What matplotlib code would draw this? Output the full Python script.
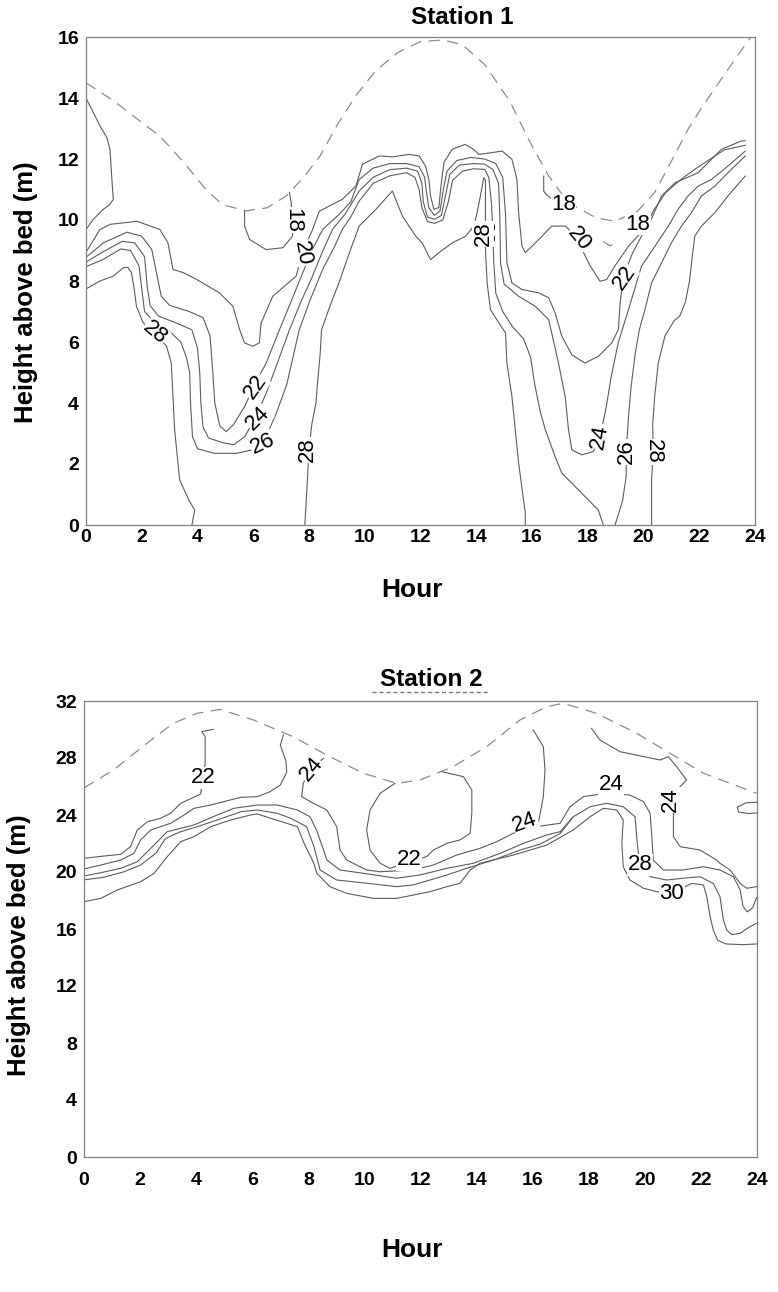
import matplotlib
matplotlib.use('Agg')
import matplotlib.pyplot as plt
from matplotlib.lines import Line2D

plt.rcParams['font.family'] = ['Liberation Sans', 'DejaVu Sans']

# ---------------- Station 1 data (hour, height above bed in m) ----------------
s1_surface_hour = [0, 1, 2, 2.65, 3.5, 4.3, 4.9, 5.75, 6.5, 7.2, 7.8, 8.4, 9.0, 9.7, 10.4, 11.2, 12.0, 12.8,
                   13.5, 14.3, 15.2, 15.9, 16.6, 17.3, 18.3, 18.98, 19.8, 20.4, 21.1, 21.6, 22.1, 23.0, 23.85]
s1_surface_height = [14.5, 13.9, 13.2, 12.75, 11.9, 11.0, 10.5, 10.3, 10.4, 10.8, 11.4, 12.1, 13.1, 14.1, 14.9,
                     15.5, 15.85, 15.9, 15.75, 15.1, 13.9, 12.6, 11.44, 10.57, 10.07, 9.96, 10.3, 10.9, 12.1,
                     12.98, 13.7, 14.9, 16.0]
s1_surface_bit_hour = [18.55, 18.8, 19.1]
s1_surface_bit_height = [9.3, 9.15, 9.3]

s1_c18a_hour = [5.69, 5.69, 5.87, 6.46, 7.06, 7.41, 7.4, 7.36, 7.3]
s1_c18a_height = [10.29, 9.8, 9.36, 9.03, 9.09, 9.47, 10.0, 10.57, 10.9]
s1_c18b_hour = [16.42, 16.42, 16.55, 16.8]
s1_c18b_height = [11.44, 10.95, 10.8, 10.65]

s1_c20a_hour = [0, 0.5, 0.75, 0.86, 0.92, 0.98, 0.85, 0.62, 0.26, 0]
s1_c20a_height = [14.0, 13.09, 12.7, 12.32, 11.44, 10.68, 10.5, 10.35, 10.02, 9.69]

s1_c20_hour = [0, 0.5, 0.88, 1.57, 1.82, 2.65, 2.94, 3.12, 3.5, 3.97, 4.79, 5.27, 5.51, 5.69, 5.98, 6.22, 6.28,
               6.7, 7.54, 7.75, 8.13, 8.37, 9.2, 9.68, 9.92, 10.52, 11.0, 11.59, 11.95, 12.18, 12.3, 12.36, 12.48,
               12.66, 12.72, 12.84, 13.14, 13.6, 13.9, 14.09, 14.57, 14.93, 15.28, 15.46, 15.52, 15.64, 15.76,
               16.24, 16.71, 17.19, 17.67, 17.85, 18.09, 18.44, 18.68, 18.98, 19.46, 19.9, 20.17, 20.65, 21.13,
               21.96, 22.32, 22.8, 23.51, 23.65]
s1_c20_height = [8.94, 9.69, 9.86, 9.93, 9.96, 9.69, 9.25, 8.38, 8.27, 8.05, 7.61, 7.17, 6.41, 5.97, 5.86, 5.97,
                 6.62, 7.5, 8.16, 8.9, 9.69, 10.29, 10.68, 11.11, 11.83, 12.1, 12.07, 12.15, 12.1, 11.77, 11.33,
                 10.79, 10.35, 10.41, 11.0, 11.89, 12.32, 12.48, 12.32, 12.15, 12.21, 12.26, 11.99, 11.33, 10.24,
                 9.14, 8.93, 9.36, 9.8, 9.8, 9.4, 8.93, 8.49, 7.99, 8.05, 8.5, 9.14, 9.58, 9.8, 10.79, 11.22,
                 11.55, 11.88, 12.32, 12.59, 12.6]

s1_c22_hour = [0, 0.64, 1.47, 2.0, 2.36, 2.5, 2.7, 3.0, 3.7, 4.2, 4.45, 4.55, 4.62, 4.8, 5.03, 5.3, 5.7, 6.04,
               6.46, 6.94, 7.3, 7.7, 8.1, 8.5, 9.1, 9.5, 9.8, 10.3, 10.9, 11.5, 11.95, 12.15, 12.2, 12.3, 12.5,
               12.7, 12.82, 12.95, 13.3, 13.8, 14.3, 14.7, 14.95, 15.05, 15.1, 15.28, 15.64, 16.24, 16.6, 16.83,
               17.07, 17.43, 17.9, 18.38, 18.86, 19.1, 19.16, 19.28, 19.6, 20.0, 20.35, 20.8, 21.3, 21.9, 22.4,
               22.9, 23.65]
s1_c22_height = [8.78, 9.26, 9.6, 9.47, 9.03, 8.4, 7.5, 7.2, 7.0, 6.8, 6.2, 5.0, 4.0, 3.25, 3.06, 3.3, 3.9, 4.6,
                 5.3, 6.4, 7.2, 8.1, 9.0, 9.7, 10.2, 10.6, 11.33, 11.7, 11.85, 11.85, 11.75, 11.4, 11.0, 10.4,
                 10.15, 10.3, 11.0, 11.6, 11.95, 12.05, 12.0, 11.85, 11.4, 10.2, 8.6, 7.94, 7.72, 7.61, 7.45, 6.95,
                 6.19, 5.58, 5.31, 5.53, 5.97, 6.41, 7.28, 8.16, 8.9, 9.6, 10.3, 10.9, 11.3, 11.7, 12.0, 12.3, 12.45]

s1_c24_hour = [0, 0.6, 1.3, 1.75, 2.1, 2.2, 2.3, 2.6, 3.3, 3.8, 4.0, 4.08, 4.12, 4.2, 4.4, 4.9, 5.3, 5.7, 6.1,
               6.5, 6.9, 7.3, 7.7, 8.1, 8.5, 8.85, 9.3, 9.8, 10.3, 10.9, 11.5, 11.9, 12.05, 12.1, 12.25, 12.5,
               12.75, 12.92, 13.05, 13.4, 13.9, 14.3, 14.6, 14.8, 14.85, 14.87, 15.0, 15.52, 16.12, 16.6, 16.95,
               17.19, 17.31, 17.43, 17.79, 18.2, 18.44, 18.65, 18.85, 19.1, 19.46, 19.93, 20.41, 20.89, 21.24,
               21.6, 21.96, 22.44, 23.03, 23.65]
s1_c24_height = [8.62, 8.95, 9.3, 9.25, 8.8, 7.8, 7.2, 6.85, 6.6, 6.4, 5.8, 5.0, 4.0, 3.2, 2.85, 2.7, 2.63, 2.9,
                 3.56, 4.4, 5.4, 6.4, 7.3, 8.1, 9.0, 9.7, 10.2, 10.95, 11.4, 11.65, 11.7, 11.6, 11.2, 10.6, 10.1,
                 10.02, 10.15, 10.9, 11.5, 11.8, 11.85, 11.83, 11.65, 11.2, 10.0, 8.6, 7.9, 7.5, 7.17, 6.73, 5.31,
                 4.21, 3.12, 2.46, 2.3, 2.41, 2.9, 3.8, 4.9, 6.0, 7.06, 8.49, 9.14, 9.8, 10.35, 10.79, 11.11,
                 11.33, 11.77, 12.26]

s1_c26_hour = [0, 0.6, 1.25, 1.6, 1.9, 2.02, 2.1, 2.5, 3.0, 3.4, 3.6, 3.72, 3.75, 3.82, 4.0, 4.6, 5.4, 5.9, 6.34,
               6.8, 7.2, 7.65, 8.05, 8.5, 8.9, 9.2, 9.5, 9.8, 10.3, 10.9, 11.5, 11.8, 11.95, 12.05, 12.25, 12.5,
               12.8, 13.0, 13.15, 13.5, 13.9, 14.3, 14.45, 14.55, 14.6, 14.63, 14.7, 14.95, 15.3, 15.7, 15.95,
               16.1, 16.3, 16.48, 16.83, 17.07, 17.55, 18.38, 18.56]
s1_c26_height = [8.47, 8.7, 9.05, 9.0, 8.5, 7.6, 7.0, 6.6, 6.35, 6.0, 5.5, 5.0, 4.0, 2.9, 2.5, 2.35, 2.35, 2.45,
                 2.66, 3.6, 4.6, 6.4, 7.4, 8.4, 9.1, 9.7, 10.1, 10.62, 11.2, 11.45, 11.55, 11.4, 11.0, 10.4, 9.95,
                 9.89, 10.0, 10.6, 11.3, 11.6, 11.68, 11.66, 11.4, 10.5, 9.5, 8.6, 7.6, 7.0, 6.5, 6.1, 5.5, 4.6,
                 3.7, 3.12, 2.24, 1.7, 1.26, 0.49, 0.0]
s1_c26b_hour = [18.98, 19.25, 19.38, 19.38, 19.45, 19.55, 19.7, 19.85, 20.05, 20.29, 20.65, 21.0, 21.36, 21.72,
                22.08, 22.56, 23.03, 23.65]
s1_c26b_height = [0.0, 0.8, 1.6, 2.4, 3.4, 4.5, 5.6, 6.4, 7.06, 7.94, 8.6, 9.25, 9.8, 10.24, 10.79, 11.11, 11.55,
                  12.1]

s1_c28a_hour = [0, 0.5, 0.98, 1.33, 1.5, 1.63, 1.72, 1.81, 2.05, 2.47, 2.89, 3.06, 3.12, 3.18, 3.36, 3.7, 3.9, 3.8]
s1_c28a_height = [7.74, 8.0, 8.16, 8.43, 8.45, 8.27, 7.8, 7.17, 6.63, 6.3, 5.86, 5.31, 4.2, 3.12, 1.48, 0.8,
                  0.49, 0.0]
s1_c28b_hour = [7.85, 7.9, 7.95, 8.0, 8.1, 8.25, 8.3, 8.4, 8.45, 8.8, 9.1, 9.4, 9.8, 10.4, 10.99, 11.35, 11.83,
                12.06, 12.36, 12.66, 13.14, 13.62, 13.91, 14.03, 14.15, 14.27, 14.33, 14.33, 14.39, 14.51, 14.81,
                15.05, 15.1, 15.28, 15.4, 15.52, 15.76, 15.76]
s1_c28b_height = [0.0, 0.8, 1.6, 2.46, 3.3, 4.0, 4.6, 5.6, 6.4, 7.3, 8.0, 8.8, 9.8, 10.35, 10.95, 10.13, 9.47,
                  9.25, 8.7, 8.93, 9.25, 9.47, 9.8, 10.24, 10.79, 11.39, 11.3, 9.03, 7.94, 7.06, 6.63, 6.3, 5.31,
                  4.21, 3.12, 2.03, 0.38, 0.0]
s1_c28c_hour = [20.29, 20.29, 20.35, 20.33, 20.4, 20.53, 20.77, 21.1, 21.3, 21.5, 21.65, 21.75, 21.84, 22.08,
                22.56, 23.03, 23.65]
s1_c28c_height = [0.0, 1.5, 2.4, 3.3, 4.2, 5.31, 6.2, 6.7, 6.85, 7.3, 8.0, 8.8, 9.47, 9.8, 10.24, 10.79, 11.44]

s1_label_text = ['28', '18', '20', '22', '24', '26', '28', '28', '28', '18', '20', '18', '22', '24', '26', '28']
s1_label_hour = [2.47, 7.4, 7.75, 6.07, 6.17, 6.34, 7.95, 14.25, 14.25, 17.13, 17.7, 19.8, 19.3, 18.44, 19.38, 20.35]
s1_label_height = [6.3, 10.0, 8.9, 4.54, 3.5, 2.66, 2.46, 9.55, 9.55, 10.5, 9.38, 9.86, 8.12, 2.9, 2.4, 2.4]
s1_label_angle = [-40, -90, -80, 55, 45, 25, 90, -90, 90, 0, -50, 0, 55, 80, 90, -90]

# ---------------- Station 2 data ----------------
s2_surface_hour = [0, 1.05, 2.24, 3.18, 4.02, 4.85, 6.04, 7.46, 8.77, 9.96, 11.15, 11.98, 13.17, 14.36, 15.55,
                   16.5, 17.09, 18.28, 19.71, 20.9, 22.09, 23.99]
s2_surface_height = [25.9, 27.16, 29.03, 30.43, 31.13, 31.41, 30.67, 29.49, 28.09, 26.93, 26.22, 26.46, 27.4,
                     28.8, 30.67, 31.6, 31.84, 31.13, 29.73, 28.33, 26.93, 25.52]

s2_c22a_hour = [0, 0.71, 1.31, 1.66, 1.9, 2.26, 2.73, 3.09, 3.45, 4.16, 4.32, 4.32, 4.2, 4.61]
s2_c22a_height = [20.96, 21.12, 21.24, 21.78, 22.95, 23.53, 23.77, 24.12, 24.82, 25.47, 27.63, 29.5, 29.85, 30.01]

s2_c22b_hour = [11.09, 10.56, 10.2, 10.08, 10.2, 10.56, 10.91, 11.63, 12.22, 12.46, 12.94, 13.41, 13.77, 13.83,
                13.83, 13.53, 12.76]
s2_c22b_height = [26.22, 25.52, 24.35, 22.95, 21.54, 20.61, 20.26, 20.72, 21.08, 21.54, 22.01, 22.25, 22.72,
                  24.12, 25.75, 26.69, 27.04]

s2_c24a_hour = [0, 0.6, 1.31, 1.78, 2.02, 2.38, 3.09, 3.57, 3.92, 4.52, 4.99, 5.59, 6.18, 6.6, 7.0, 7.23, 7.2,
                7.0, 7.11]
s2_c24a_height = [20.21, 20.49, 20.84, 21.31, 22.25, 22.95, 23.42, 24.0, 24.47, 24.7, 24.94, 25.24, 25.29, 25.6,
                  26.1, 27.0, 27.8, 28.9, 29.61]

s2_c24b_hour = [8.54, 8.06, 7.82, 7.76, 8.18, 8.66, 9.01, 9.13, 9.37, 10.08, 10.56, 11.74, 12.46, 13.29, 14.12,
                14.72, 15.31, 16.14, 16.98, 17.33, 17.81, 18.64, 19.47, 19.95, 20.19, 20.25, 20.3, 20.66, 21.37,
                22.09, 22.68, 23.16, 23.4, 23.5, 23.65, 23.85, 23.98]
s2_c24b_height = [27.98, 27.16, 26.22, 25.29, 24.82, 24.35, 23.19, 21.54, 20.84, 20.14, 20.02, 20.14, 20.49,
                  21.19, 21.66, 22.13, 22.72, 23.18, 23.42, 24.58, 25.29, 25.53, 25.4, 24.94, 24.12, 22.48, 20.84,
                  20.14, 20.14, 20.37, 20.14, 19.67, 18.74, 17.6, 17.2, 17.5, 18.2]

s2_c24c_hour = [16.2, 16.38, 16.44, 16.38, 16.02]
s2_c24c_height = [23.4, 25.29, 27.16, 28.8, 29.96]

s2_c24d_hour = [18.1, 18.4, 19.12, 20.54, 20.84, 21.13, 21.49, 21.26, 20.95, 21.02, 21.02, 21.26, 21.97, 22.56,
                22.68, 23.04, 23.4, 23.63, 23.99]
s2_c24d_height = [30.08, 29.26, 28.44, 27.86, 28.09, 27.4, 26.46, 25.99, 25.05, 24.12, 22.48, 21.78, 21.54, 20.84,
                  20.61, 20.14, 19.2, 18.86, 18.97]

s2_c24e_hour = [23.99, 23.6, 23.3, 23.35, 23.7, 23.99]
s2_c24e_height = [24.9, 24.85, 24.55, 24.2, 24.1, 24.15]

s2_c26_hour = [0, 0.6, 1.31, 1.9, 2.38, 2.97, 3.92, 4.75, 5.35, 6.18, 6.89, 7.61, 8.06, 8.3, 8.55, 8.66, 9.13,
               9.96, 11.15, 12.0, 12.94, 13.88, 14.84, 15.67, 16.5, 16.98, 17.45]
s2_c26_height = [19.72, 19.95, 20.26, 20.72, 21.66, 22.83, 23.3, 24.0, 24.47, 24.7, 24.7, 24.35, 23.88, 22.9,
                 21.5, 20.84, 20.14, 19.91, 19.56, 19.8, 20.26, 20.61, 21.31, 22.01, 22.6, 22.83, 23.88]

s2_c28_hour = [0, 0.71, 1.43, 2.02, 2.56, 2.91, 3.45, 4.04, 4.75, 5.59, 6.18, 6.89, 7.37, 7.94, 8.2, 8.42, 9.01,
               10.08, 11.15, 11.74, 12.94, 13.65, 14.6, 15.55, 16.26, 16.98, 17.45, 18.05, 18.64, 19.23, 19.65,
               19.71, 19.77, 19.83, 20.19, 20.78, 21.37, 21.97, 22.44, 22.68, 22.8, 22.92, 23.1, 23.4, 23.7,
               23.98]
s2_c28_height = [19.45, 19.63, 20.02, 20.49, 21.31, 22.36, 22.83, 23.18, 23.65, 24.23, 24.35, 24.12, 23.77,
                 23.18, 21.78, 20.14, 19.44, 19.21, 18.97, 19.09, 19.79, 20.26, 20.84, 21.54, 21.95, 22.7, 23.88,
                 24.58, 24.82, 24.58, 23.88, 22.48, 21.31, 20.49, 19.67, 19.44, 19.56, 19.67, 19.2, 18.27, 16.63,
                 15.93, 15.6, 15.7, 16.1, 16.4]

s2_c30_hour = [0, 0.6, 1.19, 2.02, 2.5, 2.97, 3.45, 3.92, 4.52, 5.23, 5.94, 6.18, 6.66, 7.61, 7.85, 8.2, 8.3,
               8.77, 9.37, 10.32, 11.15, 12.34, 12.94, 13.41, 13.77, 14.12, 15.31, 16.5, 17.45, 18.05, 18.52,
               19.0, 19.23, 19.18, 19.23, 19.47, 19.95, 20.42, 20.96, 21.67, 22.09, 22.21, 22.33, 22.44, 22.6,
               22.9, 23.5, 23.98]
s2_c30_height = [17.92, 18.15, 18.74, 19.32, 19.91, 21.08, 22.13, 22.48, 23.18, 23.65, 24.0, 24.07, 23.77, 23.18,
                 22.01, 20.6, 19.91, 18.97, 18.5, 18.15, 18.15, 18.62, 18.97, 19.21, 20.14, 20.61, 21.19, 21.89,
                 22.95, 23.88, 24.47, 24.35, 23.65, 22.01, 20.37, 19.44, 18.86, 18.62, 18.5, 19.2, 19.09, 18.27,
                 16.86, 15.93, 15.2, 14.95, 14.9, 14.95]

s2_label_text = ['22', '24', '22', '24', '24', '24', '28', '30']
s2_label_hour = [4.26, 8.1, 11.6, 15.73, 18.8, 20.9, 19.83, 20.96]
s2_label_height = [26.6, 27.2, 20.85, 23.5, 26.15, 25.05, 20.5, 18.5]
s2_label_angle = [0, 50, 0, 20, 0, 90, 0, 0]

# ---------------- drawing ----------------
W, H = 778, 1292
fig = plt.figure(figsize=(W / 100, H / 100), dpi=100)

ax1 = fig.add_axes([86 / W, 1 - 525 / H, (755 - 86) / W, (525 - 37) / H])
ax2 = fig.add_axes([84 / W, 1 - 1157 / H, (757 - 84) / W, (1157 - 701) / H])

LINE_C = '#5c5c5c'
DASH_C = '#8c8c8c'


def style(ax, ymax, ystep, xpad):
    ax.set_xlim(0, 24)
    ax.set_ylim(0, ymax)
    ax.set_xticks(range(0, 25, 2))
    ax.set_yticks(range(0, ymax + 1, ystep))
    ax.tick_params(length=0, labelsize=14)
    ax.tick_params(axis='x', pad=xpad)
    ax.tick_params(axis='y', pad=5)
    for lab in ax.get_xticklabels() + ax.get_yticklabels():
        lab.set_fontweight('bold')
    for s in ax.spines.values():
        s.set_color('#808080')
        s.set_linewidth(0.9)


def solid(ax, xs, ys):
    ax.plot(xs, ys, color=LINE_C, lw=0.8, solid_joinstyle='round')


def dashed(ax, xs, ys):
    ln, = ax.plot(xs, ys, color=DASH_C, lw=0.9)
    ln.set_dashes((9, 6))


def labels(ax, texts, xs, ys, angles):
    for t, x, y, a in zip(texts, xs, ys, angles):
        ax.text(x, y, t, fontsize=16, rotation=a, ha='center', va='center', rotation_mode='anchor',
                color='black', zorder=5,
                bbox=dict(boxstyle='square,pad=0.02', fc='white', ec='none'))


style(ax1, 16, 2, 3)
style(ax2, 32, 4, 11)

dashed(ax1, s1_surface_hour, s1_surface_height)
dashed(ax1, s1_surface_bit_hour, s1_surface_bit_height)
for xs, ys in [(s1_c18a_hour, s1_c18a_height), (s1_c18b_hour, s1_c18b_height),
               (s1_c20a_hour, s1_c20a_height), (s1_c20_hour, s1_c20_height),
               (s1_c22_hour, s1_c22_height), (s1_c24_hour, s1_c24_height),
               (s1_c26_hour, s1_c26_height), (s1_c26b_hour, s1_c26b_height),
               (s1_c28a_hour, s1_c28a_height), (s1_c28b_hour, s1_c28b_height),
               (s1_c28c_hour, s1_c28c_height)]:
    solid(ax1, xs, ys)
labels(ax1, s1_label_text, s1_label_hour, s1_label_height, s1_label_angle)

dashed(ax2, s2_surface_hour, s2_surface_height)
for xs, ys in [(s2_c22a_hour, s2_c22a_height), (s2_c22b_hour, s2_c22b_height),
               (s2_c24a_hour, s2_c24a_height), (s2_c24b_hour, s2_c24b_height),
               (s2_c24c_hour, s2_c24c_height), (s2_c24d_hour, s2_c24d_height),
               (s2_c24e_hour, s2_c24e_height), (s2_c26_hour, s2_c26_height),
               (s2_c28_hour, s2_c28_height), (s2_c30_hour, s2_c30_height)]:
    solid(ax2, xs, ys)
labels(ax2, s2_label_text, s2_label_hour, s2_label_height, s2_label_angle)

# titles and axis labels
fig.text(462 / W, 1 - 18 / H, 'Station 1', ha='center', va='center', fontsize=17.5, fontweight='bold')
fig.text(431 / W, 1 - 680 / H, 'Station 2', ha='center', va='center', fontsize=17.5, fontweight='bold')
fig.add_artist(Line2D([372 / W, 490 / W], [1 - 692 / H, 1 - 692 / H], color='#7a7a7a', lw=1.0,
                      dashes=(3, 2)))
fig.text(412 / W, 1 - 590 / H, 'Hour', ha='center', va='center', fontsize=19, fontweight='bold')
fig.text(412 / W, 1 - 1250 / H, 'Hour', ha='center', va='center', fontsize=19, fontweight='bold')
fig.text(26 / W, 1 - 292 / H, 'Height above bed (m)', ha='center', va='center', rotation=90,
         fontsize=18.5, fontweight='bold')
fig.text(19 / W, 1 - 945 / H, 'Height above bed (m)', ha='center', va='center', rotation=90,
         fontsize=18.5, fontweight='bold')

fig.savefig('out.png', dpi=100, facecolor='white')
